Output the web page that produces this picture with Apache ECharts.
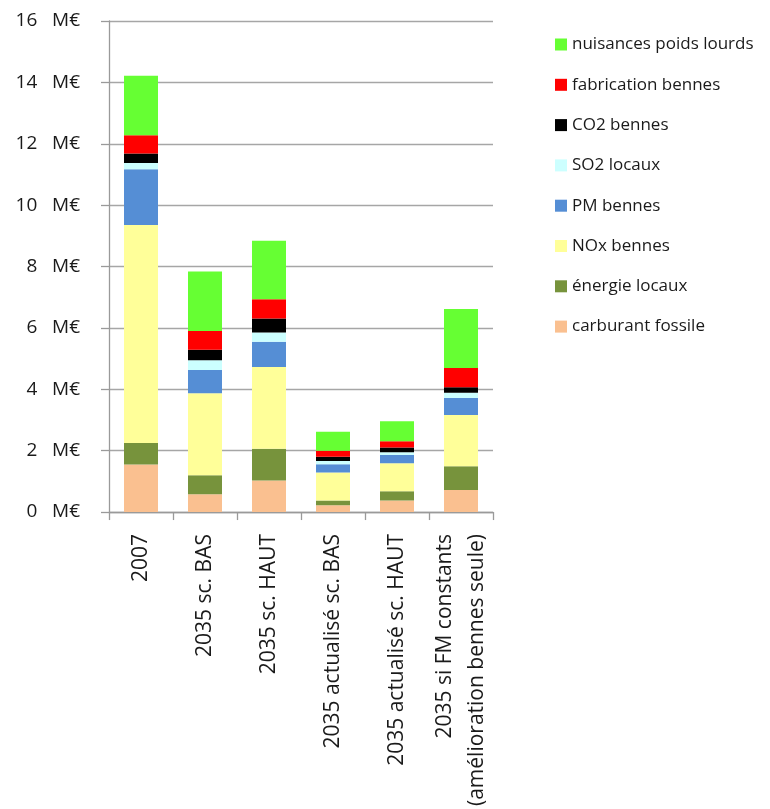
<!DOCTYPE html>
<html>
<head>
<meta charset="utf-8">
<script src="https://cdn.jsdelivr.net/npm/echarts@6/dist/echarts.min.js"></script>
<style>
  html, body { margin: 0; padding: 0; background: #ffffff; }
  #chart { width: 770px; height: 809px; }
</style>
</head>
<body>
<div id="chart"></div>
<script>
const categories = [
  "2007",
  "2035 sc. BAS",
  "2035 sc. HAUT",
  "2035 actualisé sc. BAS",
  "2035 actualisé sc. HAUT",
  "2035 si FM constants\n(amélioration bennes seule)"
];

// values in M€, bottom of stack first
const carburantFossile   = [1.55, 0.58, 1.03, 0.22, 0.38, 0.72];
const energieLocaux      = [0.70, 0.62, 1.03, 0.16, 0.30, 0.77];
const noxBennes          = [7.10, 2.67, 2.67, 0.91, 0.91, 1.67];
const pmBennes           = [1.82, 0.76, 0.82, 0.27, 0.27, 0.56];
const so2Locaux          = [0.20, 0.32, 0.30, 0.10, 0.09, 0.17];
const co2Bennes          = [0.31, 0.34, 0.46, 0.14, 0.15, 0.18];
const fabricationBennes  = [0.60, 0.61, 0.62, 0.20, 0.21, 0.62];
const nuisancesPoidsLourds = [1.94, 1.94, 1.91, 0.62, 0.65, 1.93];

const yTicks = { min: 0, max: 16, interval: 2 };

const seriesDefs = [
  { name: "carburant fossile",      data: carburantFossile,      color: "#FAC090" },
  { name: "énergie locaux",         data: energieLocaux,         color: "#77933C" },
  { name: "NOx bennes",             data: noxBennes,             color: "#FFFF99" },
  { name: "PM bennes",              data: pmBennes,              color: "#558ED5" },
  { name: "SO2 locaux",             data: so2Locaux,             color: "#CCFFFF" },
  { name: "CO2 bennes",             data: co2Bennes,             color: "#000000" },
  { name: "fabrication bennes",     data: fabricationBennes,     color: "#FF0000" },
  { name: "nuisances poids lourds", data: nuisancesPoidsLourds,  color: "#66FF33" }
];

const FONT = "'Open Sans', 'DejaVu Sans', sans-serif";
const chart = echarts.init(document.getElementById('chart'), null, { renderer: 'canvas' });

chart.setOption({
  animation: false,
  backgroundColor: '#ffffff',
  textStyle: { fontFamily: FONT },
  grid: { left: 109, right: 277, top: 21, bottom: 295, containLabel: false },
  legend: {
    orient: 'vertical',
    left: 550,
    top: 29,
    itemWidth: 12,
    itemHeight: 12,
    itemGap: 19.3,
    icon: 'rect',
    data: seriesDefs.map(s => s.name).slice().reverse(),
    textStyle: { fontFamily: FONT, fontSize: 17, color: '#1a1a1a', lineHeight: 21 }
  },
  xAxis: {
    type: 'category',
    data: categories,
    axisLine: { lineStyle: { color: '#9a9a9a', width: 1.3 } },
    axisTick: { show: true, length: 8, alignWithLabel: false, lineStyle: { color: '#9a9a9a', width: 1.3 } },
    axisLabel: {
      rotate: 90,
      interval: 0,
      margin: 22,
      fontFamily: FONT,
      fontSize: 21,
      color: '#1a1a1a',
      lineHeight: 32
    }
  },
  yAxis: {
    type: 'value',
    min: yTicks.min,
    max: yTicks.max,
    interval: yTicks.interval,
    axisLine: { show: true, lineStyle: { color: '#9a9a9a', width: 1.3 } },
    axisTick: { show: true, length: 8, lineStyle: { color: '#9a9a9a', width: 1.3 } },
    splitLine: { show: true, lineStyle: { color: '#a6a6a6', width: 1.3 } },
    axisLabel: {
      formatter: '{value}   M€',
      margin: 29,
      fontFamily: FONT,
      fontSize: 19,
      color: '#1a1a1a'
    }
  },
  series: seriesDefs.map(s => ({
    name: s.name,
    type: 'bar',
    stack: 'total',
    data: s.data,
    barWidth: 34,
    itemStyle: { color: s.color }
  }))
});
</script>
</body>
</html>
